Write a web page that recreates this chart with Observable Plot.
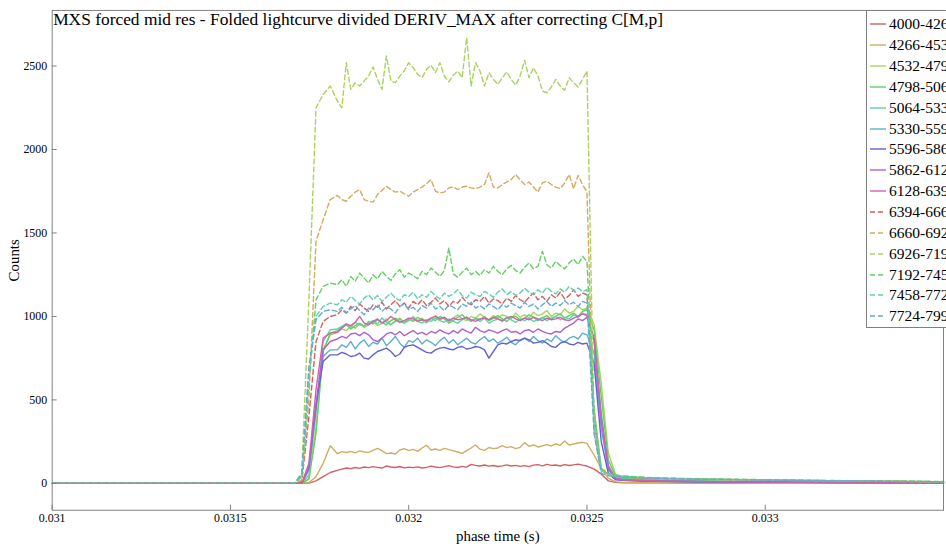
<!DOCTYPE html>
<html>
<head>
<meta charset="utf-8">
<script src="https://cdn.jsdelivr.net/npm/d3@7"></script>
<script src="https://cdn.jsdelivr.net/npm/@observablehq/plot@0.6"></script>
<style>
  html, body { margin: 0; padding: 0; background: #fff; overflow: hidden; }
  #wrap { position: relative; width: 946px; height: 546px; overflow: hidden; font-family: "Liberation Serif", serif; }
  #chart svg { display: block; }
  #chart g[aria-label="x-axis label"] text, #chart g[aria-label="y-axis label"] text { font-size: 15px; }
  #legend { position: absolute; left: 866px; top: 10px; width: 110px; height: 318px; border: 1px solid #808080; background: #fff; box-sizing: border-box; padding-top: 3px; }
  #legend .row { display: flex; align-items: center; height: 20.85px; white-space: nowrap; font-size: 15.5px; color: #000; }
  #legend svg { margin-left: 2px; margin-right: 2px; }
</style>
</head>
<body>
<div id="wrap"><div id="chart"></div><div id="legend"></div></div>
<script>
// ---- data ----
const labels = ["4000-4266","4266-4532","4532-4798","4798-5064","5064-5330","5330-5596","5596-5862","5862-6128","6128-6394",
                "6394-6660","6660-6926","6926-7192","7192-7458","7458-7724","7724-7990"];
const xTicks = [0.031, 0.0315, 0.032, 0.0325, 0.033];
const xTickLabels = ["0.031", "0.0315", "0.032", "0.0325", "0.033"];
const yTicks = [0, 500, 1000, 1500, 2000, 2500];

const phase = [0.0310, 0.0312, 0.0314, 0.0316, 0.03168,
  0.03170, 0.03172, 0.03174, 0.03176, 0.03178,
  0.0318, 0.0318125, 0.031825, 0.0318375, 0.03185, 0.0318625, 0.031875, 0.0318875,
  0.0319, 0.0319125, 0.031925, 0.0319375, 0.03195, 0.0319625, 0.031975, 0.0319875,
  0.032, 0.0320125, 0.032025, 0.0320375, 0.03205, 0.0320625, 0.032075, 0.0320875,
  0.0321, 0.0321125, 0.032125, 0.0321375, 0.03215, 0.0321625, 0.032175, 0.0321875,
  0.0322, 0.0322125, 0.032225, 0.0322375, 0.03225, 0.0322625, 0.032275, 0.0322875,
  0.0323, 0.0323125, 0.032325, 0.0323375, 0.03235, 0.0323625, 0.032375, 0.0323875,
  0.0324, 0.0324125, 0.032425, 0.0324375, 0.03245, 0.0324625, 0.032475, 0.0324875,
  0.0325,
  0.03252, 0.03254, 0.03256, 0.03258,
  0.0326, 0.03265, 0.0327, 0.0328, 0.0329, 0.0330, 0.0331, 0.0332, 0.0333, 0.0334, 0.0335];

const c4000 = [0,0,0,0,0, 0,2,15,40,65,
  78,85,92,88,95,90,98,94,
  100,96,92,104,98,95,101,93,
  97,94,99,92,96,103,98,94,
  100,106,99,95,102,97,114,108,
  104,110,103,107,101,105,111,104,
  108,102,106,100,109,112,105,114,
  108,110,104,112,107,111,115,109,
  104,
  85,55,15,6,
  4,3,3,2,2,2,2,1,1,1,1];
const c4266 = [0,0,0,0,0, 0,5,40,120,225,
  178,190,185,192,183,195,188,186,
  198,210,196,178,182,176,200,208,
  196,204,192,212,228,200,206,198,
  210,202,195,188,180,196,212,230,
  205,198,215,208,212,226,214,220,
  208,216,244,222,230,218,225,232,
  224,236,228,254,230,236,242,246,
  240,
  170,90,30,10,
  6,5,4,3,3,2,2,2,2,1,1];
const c4532 = [0,0,0,0,0, 0,30,330,800,890,
  905,925,915,940,930,955,935,950,
  970,945,960,985,950,975,990,965,
  980,1000,975,990,960,985,1005,980,
  995,970,990,1010,985,975,1000,990,
  1015,995,980,1005,990,1010,1000,985,
  1020,995,1010,990,1025,1005,1015,1035,
  1000,1020,1010,1045,1020,1030,1060,1040,
  1050,
  950,600,180,55,
  35,28,22,16,13,11,9,8,7,6,5];
const c4798 = [0,0,0,0,0, 0,25,300,790,900,
  915,935,950,925,945,960,940,970,
  955,980,965,950,975,990,970,960,
  985,970,995,980,965,990,975,1000,
  985,960,975,995,1010,985,970,990,
  980,1000,975,990,1005,985,970,995,
  1000,980,990,1010,995,975,990,1005,
  985,1000,1015,990,1005,1020,1000,1030,
  1040,
  920,520,140,45,
  30,24,19,15,12,10,9,8,7,6,5];
const c5064 = [0,0,0,0,0, 0,50,420,850,920,
  925,940,955,935,965,950,945,960,
  975,955,990,965,950,970,985,960,
  975,995,970,960,980,970,990,975,
  965,985,970,960,980,995,975,985,
  970,990,960,975,985,970,995,980,
  965,985,975,990,970,980,995,975,
  990,1000,980,995,985,1010,995,1020,
  1010,
  850,420,110,35,
  25,20,16,13,11,9,8,7,6,5,4];
const c5330 = [0,0,0,0,0, 0,80,450,760,800,
  800,830,815,850,805,840,860,820,
  845,835,870,825,850,880,840,815,
  855,845,870,835,860,845,825,855,
  875,840,860,830,850,870,845,835,
  860,880,850,865,840,855,875,845,
  830,860,870,850,880,855,840,865,
  850,885,860,845,870,880,865,900,
  890,
  780,330,80,28,
  20,16,13,11,9,8,7,6,5,5,4];
const c5596 = [0,0,0,0,0, 0,100,470,730,770,
  770,785,775,760,765,780,750,745,
  770,790,800,810,790,760,775,815,
  825,830,815,800,785,780,800,810,
  815,805,800,815,820,805,810,820,
  815,800,750,790,830,840,835,850,
  860,855,870,860,840,845,855,840,
  820,815,840,850,835,830,845,835,
  840,
  720,250,60,22,
  18,14,12,10,8,7,6,5,5,4,4];
const c5862 = [0,0,0,0,0, 0,90,480,800,850,
  865,880,870,895,900,885,905,890,
  860,850,870,895,905,890,910,885,
  900,915,895,905,890,910,900,920,
  905,895,915,900,925,910,900,935,
  915,905,920,910,900,915,925,905,
  910,895,915,920,905,925,910,900,
  895,910,905,930,945,960,985,975,
  995,
  870,380,90,30,
  22,17,14,11,9,8,7,6,5,5,4];
const c6128 = [0,0,0,0,0, 0,120,560,870,900,
  905,930,955,945,965,1000,960,950,
  970,985,960,975,1000,980,965,975,
  990,985,970,980,975,990,1000,985,
  995,975,990,980,985,995,980,970,
  985,990,980,995,985,975,990,1000,
  985,975,990,980,995,985,975,990,
  980,985,995,980,975,990,1000,1015,
  1005,
  860,400,100,30,
  22,18,14,12,10,8,7,6,5,5,4];
const c6394 = [0,0,0,0,0, 10,400,850,970,1000,
  1010,1040,1020,1060,1035,1075,1050,1030,
  1070,1055,1085,1045,1070,1095,1060,1080,
  1050,1090,1070,1100,1065,1085,1110,1075,
  1095,1060,1090,1080,1115,1085,1070,1100,
  1090,1120,1080,1105,1095,1075,1110,1090,
  1125,1100,1085,1115,1140,1100,1120,1090,
  1130,1110,1145,1105,1125,1160,1120,1140,
  1130,
  420,80,55,45,
  40,34,30,26,23,20,18,16,14,12,10];
const c6660 = [0,0,0,0,0, 20,500,1450,1580,1700,
  1725,1700,1690,1720,1745,1760,1700,1690,
  1685,1730,1755,1780,1760,1745,1750,1735,
  1720,1745,1760,1775,1795,1820,1750,1740,
  1745,1770,1775,1760,1775,1780,1770,1765,
  1775,1790,1860,1775,1770,1790,1805,1820,
  1850,1820,1790,1805,1775,1745,1800,1810,
  1790,1775,1765,1800,1850,1765,1845,1790,
  1745,
  300,80,50,40,
  38,33,29,25,22,19,17,15,13,11,9];
const c6926 = [0,0,0,0,0, 60,1100,2250,2330,2380,
  2290,2250,2520,2360,2400,2380,2410,2440,
  2495,2420,2360,2560,2410,2400,2440,2470,
  2520,2490,2450,2430,2480,2505,2460,2520,
  2440,2405,2445,2470,2430,2670,2380,2520,
  2470,2380,2460,2420,2390,2430,2465,2420,
  2385,2440,2535,2430,2490,2440,2350,2340,
  2375,2420,2380,2355,2430,2400,2375,2420,
  2470,
  350,90,55,45,
  42,36,31,27,24,21,18,16,14,12,10];
const c7192 = [0,0,0,0,0, 40,600,1100,1180,1200,
  1190,1220,1180,1240,1210,1260,1230,1200,
  1250,1225,1270,1240,1215,1255,1280,1235,
  1260,1245,1225,1270,1250,1290,1265,1240,
  1275,1410,1255,1235,1265,1290,1250,1270,
  1245,1280,1260,1300,1270,1250,1285,1305,
  1275,1260,1295,1320,1285,1300,1390,1310,
  1290,1330,1305,1285,1320,1345,1310,1360,
  1330,
  450,90,60,50,
  45,38,33,28,25,22,19,17,15,13,11];
const c7458 = [0,0,0,0,0, 50,650,1000,1060,1080,
  1070,1100,1085,1120,1095,1075,1110,1130,
  1100,1125,1090,1115,1140,1110,1095,1130,
  1120,1145,1105,1130,1115,1150,1125,1105,
  1140,1120,1135,1160,1125,1110,1145,1130,
  1120,1150,1135,1115,1145,1165,1130,1150,
  1125,1140,1170,1145,1130,1160,1140,1175,
  1150,1135,1165,1145,1180,1155,1170,1150,
  1160,
  350,75,55,45,
  42,36,31,27,24,21,18,16,14,12,10];
const c7724 = [0,0,0,0,0, 60,700,980,1030,1040,
  1030,1055,1020,1045,1065,1035,1010,1050,
  1040,1070,1030,1055,1045,1020,1060,1075,
  1040,1055,1030,1065,1050,1080,1045,1060,
  1035,1070,1055,1040,1075,1060,1085,1050,
  1065,1045,1075,1060,1040,1070,1055,1080,
  1065,1050,1085,1060,1075,1045,1070,1090,
  1060,1080,1065,1095,1070,1085,1060,1090,
  1080,
  300,60,45,40,
  38,33,29,25,22,19,17,15,13,11,9];

// ---- styles ----
const colors = ["#d16161","#d1ac61","#acd161","#61d161","#61d1ac","#61acd1","#6161d1","#ac61d1","#d161ac",
                "#d16161","#d1ac61","#acd161","#61d161","#61d1ac","#61acd1"];
const dashedFrom = 9;

const seriesArrays = [c4000,c4266,c4532,c4798,c5064,c5330,c5596,c5862,c6128,c6394,c6660,c6926,c7192,c7458,c7724];
const rows = [];
labels.forEach((s, i) => seriesArrays[i].forEach((v, j) => rows.push({phase: phase[j], counts: v, series: s, dashed: i >= dashedFrom})));

const title = "MXS forced mid res - Folded lightcurve divided DERIV_MAX after correcting C[M,p]";

const chart = Plot.plot({
  width: 952, height: 546,
  marginLeft: 52, marginRight: 3, marginTop: 10, marginBottom: 33,
  style: {fontFamily: "Liberation Serif, serif", fontSize: "12px", color: "#000", background: "#fff", overflow: "visible"},
  x: {domain: [0.031, 0.0335]},
  y: {domain: [-161, 2833]},
  color: {domain: labels, range: colors},
  marks: [
    Plot.line(rows.filter(d => !d.dashed), {x: "phase", y: "counts", z: "series", stroke: "series", strokeWidth: 1.4}),
    Plot.line(rows.filter(d => d.dashed), {x: "phase", y: "counts", z: "series", stroke: "series", strokeWidth: 1.4, strokeDasharray: "5,3"}),
    Plot.frame({stroke: "#808080"}),
    Plot.ruleX(xTicks, {x: d => d, stroke: "#808080", insetTop: 498}),
    Plot.ruleY(yTicks, {y: d => d, stroke: "#808080", insetRight: 892}),
    Plot.axisX(xTicks, {tickSize: 0, tickPadding: 3, tickFormat: d => xTickLabels[xTicks.indexOf(d)],
      label: "phase time (s)", labelAnchor: "center", labelArrow: "none", labelOffset: 31, fill: "#000"}),
    Plot.axisY(yTicks, {tickSize: 0, tickPadding: 5, tickFormat: d => String(d),
      label: "Counts", labelAnchor: "center", labelArrow: "none", labelOffset: 44, fill: "#000"}),
    Plot.text([title], {frameAnchor: "top-left", textAnchor: "start", lineAnchor: "top", dx: 1, dy: 2, fontSize: 17.5, fill: "#000"})
  ]
});
document.getElementById("chart").appendChild(chart);

// ---- legend ----
const legend = document.getElementById("legend");
labels.forEach((s, i) => {
  const row = document.createElement("div");
  row.className = "row";
  const dash = i >= dashedFrom ? ' stroke-dasharray="5,3"' : '';
  row.innerHTML = `<svg width="18" height="6"><line x1="1" x2="17" y1="3" y2="3" stroke="${colors[i]}" stroke-width="1.4"${dash}/></svg><span>${s}</span>`;
  legend.appendChild(row);
});
</script>
</body>
</html>
